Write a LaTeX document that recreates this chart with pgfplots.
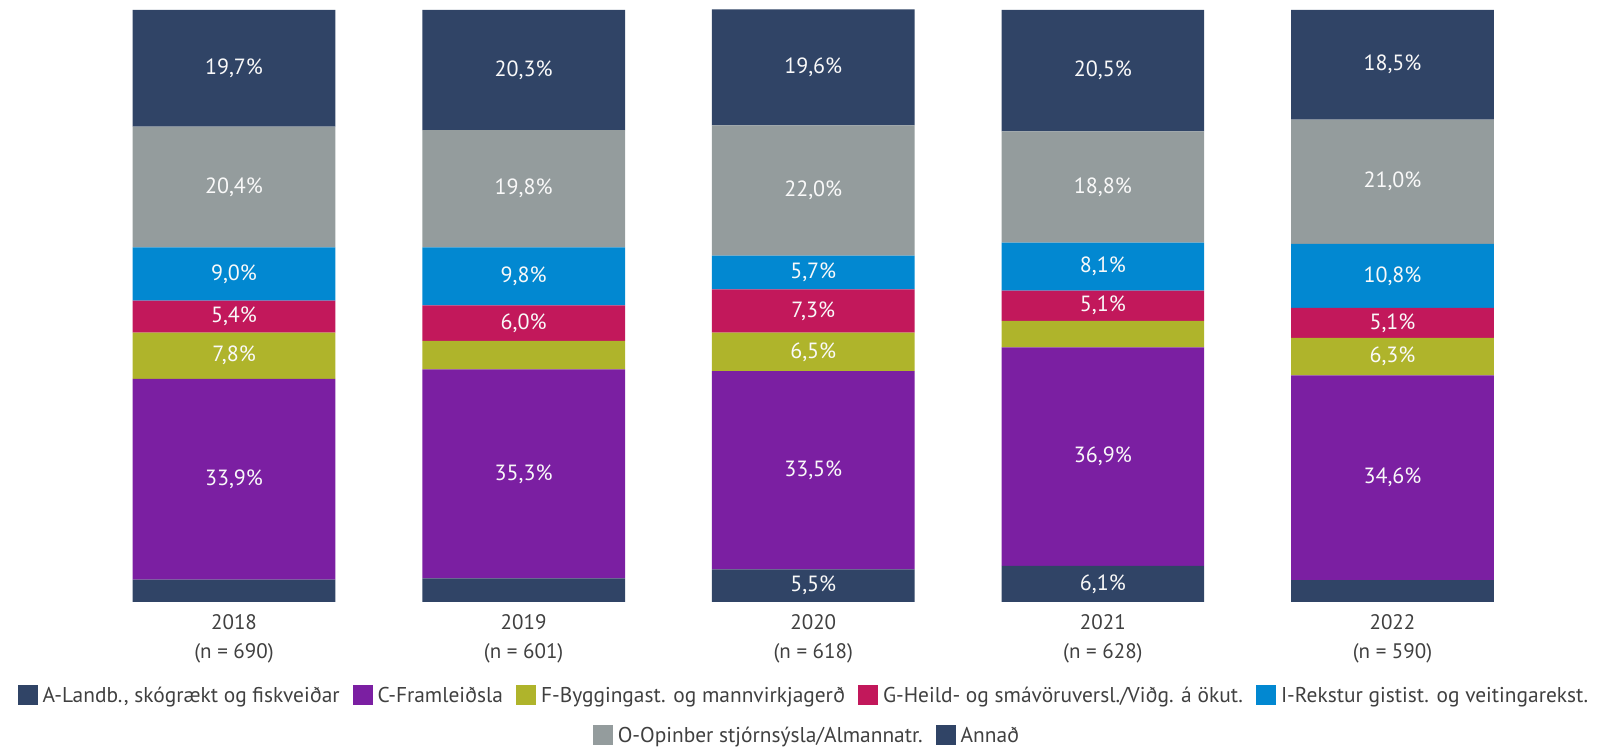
\documentclass[border=0pt]{standalone}
\usepackage{fontspec}
\setmainfont{PT Sans}
\usepackage{pgfplots}
\pgfplotsset{compat=1.18}

\definecolor{cNavy}{HTML}{304466}
\definecolor{cPurple}{HTML}{7B1FA2}
\definecolor{cOlive}{HTML}{AFB42B}
\definecolor{cPink}{HTML}{C2185B}
\definecolor{cBlue}{HTML}{0288D1}
\definecolor{cGray}{HTML}{949C9D}
\definecolor{txt}{HTML}{404040}

\newcommand{\lentry}[2]{\textcolor{#1}{\rule[-1pt]{10pt}{10pt}}\hspace{2.5pt}#2}

\begin{document}
\begin{tikzpicture}
\begin{axis}[
    name=ax,
    scale only axis,
    width=800.5pt, height=296pt,
    xmin=-0.808, xmax=4.72,
    ymin=0, ymax=100,
    ybar stacked,
    bar width=0.7,
    clip=false,
    axis line style={draw=none},
    ytick=\empty,
    xtick={0,1,2,3,4},
    xticklabels={{2018\\(n = 690)},{2019\\(n = 601)},{2020\\(n = 618)},{2021\\(n = 628)},{2022\\(n = 590)}},
    xticklabel style={align=center, font=\fontsize{10.5}{14.5}\selectfont, text=txt, yshift=-2.5pt},
    major tick length=0pt,
    every axis plot/.append style={draw=none},
    visualization depends on=rawy\as\rawy,
    nodes near coords={\ifdim\rawy pt<5pt\else\pgfmathprintnumber[fixed,fixed zerofill,precision=1,use comma,assume math mode=true]{\rawy}\%\fi},
    every node near coord/.append style={anchor=center, text=white!95!gray, font=\fontsize{11}{13}\selectfont},
]
% A-Landb.
\addplot[fill=cNavy] coordinates {(0,3.8) (1,4.0) (2,5.5) (3,6.1) (4,3.7)};
% C-Framleiðsla
\addplot[fill=cPurple] coordinates {(0,33.9) (1,35.3) (2,33.5) (3,36.9) (4,34.6)};
% F-Byggingast.
\addplot[fill=cOlive] coordinates {(0,7.8) (1,4.8) (2,6.5) (3,4.5) (4,6.3)};
% G-Heild
\addplot[fill=cPink] coordinates {(0,5.4) (1,6.0) (2,7.3) (3,5.1) (4,5.1)};
% I-Rekstur
\addplot[fill=cBlue] coordinates {(0,9.0) (1,9.8) (2,5.7) (3,8.1) (4,10.8)};
% O-Opinber
\addplot[fill=cGray] coordinates {(0,20.4) (1,19.8) (2,22.0) (3,18.8) (4,21.0)};
% Annað
\addplot[fill=cNavy] coordinates {(0,19.7) (1,20.3) (2,19.6) (3,20.5) (4,18.5)};
\end{axis}

% legend, two centred rows
\node[anchor=center, inner sep=0pt, text=txt, font=\fontsize{10.7}{12}\selectfont]
  at ([xshift=1.25pt, yshift=-47pt]ax.south)
  {\lentry{cNavy}{A-Landb., skógrækt og fiskveiðar}\hspace{6.5pt}%
   \lentry{cPurple}{C-Framleiðsla}\hspace{6.5pt}%
   \lentry{cOlive}{F-Byggingast. og mannvirkjagerð}\hspace{6.5pt}%
   \lentry{cPink}{G-Heild- og smávöruversl./Viðg. á ökut.}\hspace{6.5pt}%
   \lentry{cBlue}{I-Rekstur gistist. og veitingarekst.}};
\node[anchor=center, inner sep=0pt, text=txt, font=\fontsize{10.7}{12}\selectfont]
  at ([xshift=2.75pt, yshift=-67pt]ax.south)
  {\lentry{cGray}{O-Opinber stjórnsýsla/Almannatr.}\hspace{6.5pt}%
   \lentry{cNavy}{Annað}};

\pgfresetboundingbox
\path ([yshift=-73.5pt]ax.south west) rectangle ([yshift=5pt]ax.north east);
\end{tikzpicture}
\end{document}
